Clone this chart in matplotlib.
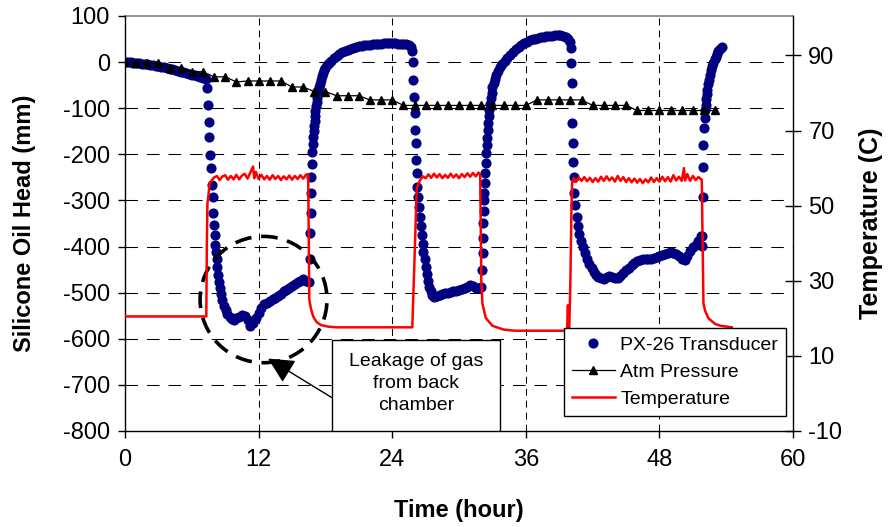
import matplotlib
matplotlib.use("Agg")
import matplotlib.pyplot as plt
from matplotlib.patches import Ellipse, Rectangle, FancyArrowPatch

plt.rcParams['font.family'] = ['Liberation Sans', 'DejaVu Sans']
plt.rcParams['lines.scale_dashes'] = False
plt.rcParams['axes.unicode_minus'] = False

# ---- PX-26 transducer (mm) ----
px_time = [
    # slow drift
    0.0, 0.25, 0.5, 0.75, 1.0, 1.25, 1.5, 1.75, 2.0, 2.25, 2.5, 2.75, 3.0, 3.25, 3.5,
    3.75, 4.0, 4.25, 4.5, 4.75, 5.0, 5.25, 5.5, 5.75, 6.0, 6.25, 6.5, 6.75, 7.0, 7.25,
    # first heating: drop
    7.35, 7.42, 7.5, 7.58, 7.66, 7.74, 7.8, 7.86, 7.92, 7.98, 8.04, 8.1, 8.16, 8.22,
    8.3, 8.38, 8.46, 8.55, 8.65, 8.75, 8.9, 9.05, 9.2, 9.4, 9.6,
    # leak period
    9.75, 10.0, 10.25, 10.5, 10.75, 11.0, 11.25, 11.5, 11.75, 12.0, 12.25, 12.5, 12.75,
    13.0, 13.25, 13.5, 13.75, 14.0, 14.25, 14.5, 14.75, 15.0, 15.25, 15.5, 15.75, 16.0,
    16.25, 16.5,
    # cooling: rise
    16.6, 16.63, 16.66, 16.7, 16.74, 16.78, 16.82, 16.86, 16.9, 16.94, 16.98, 17.02,
    17.06, 17.1, 17.15, 17.2, 17.25, 17.3, 17.36, 17.42, 17.5, 17.6, 17.7, 17.8, 17.9,
    18.0, 18.15, 18.3, 18.5, 18.75, 19.0, 19.25, 19.5, 19.75, 20.0, 20.25, 20.5, 20.75,
    21.0, 21.25, 21.5, 21.75, 22.0, 22.25, 22.5, 22.75, 23.0, 23.25, 23.5, 23.75, 24.0,
    24.25, 24.5, 24.75, 25.0, 25.25, 25.5, 25.7,
    # second heating: drop
    25.8, 25.86, 25.9, 25.95, 26.0, 26.05, 26.1, 26.15, 26.2, 26.25, 26.32, 26.4, 26.48,
    26.56, 26.64, 26.72, 26.8, 26.9, 27.0, 27.1, 27.2, 27.32, 27.45, 27.6, 27.75,
    28.0, 28.25, 28.5, 28.75, 29.0, 29.25, 29.5, 29.75, 30.0, 30.25, 30.5, 30.75, 31.0,
    31.25, 31.5, 31.75, 32.0,
    # cooling: rise
    32.08, 32.11, 32.14, 32.17, 32.2, 32.24, 32.28, 32.32, 32.36, 32.4, 32.44, 32.48,
    32.52, 32.57, 32.62, 32.67, 32.72, 32.78, 32.85, 32.92, 33.0, 33.1, 33.2, 33.35,
    33.5, 33.7, 33.9, 34.1, 34.35, 34.6, 34.85, 35.1, 35.35, 35.6, 35.85, 36.1, 36.35,
    36.6, 36.85, 37.1, 37.35, 37.6, 37.85, 38.1, 38.35, 38.6, 38.85, 39.1, 39.35, 39.6,
    39.8, 39.95,
    # third heating: drop
    40.02, 40.06, 40.1, 40.18, 40.22, 40.26, 40.3, 40.36, 40.45, 40.55, 40.65, 40.8,
    40.95, 41.1, 41.3, 41.5, 41.7, 41.9, 42.1, 42.3, 42.5, 42.75, 43.0, 43.25, 43.5,
    43.75, 44.0, 44.25, 44.5, 44.75, 45.0, 45.25, 45.5, 45.75, 46.0, 46.25, 46.5, 46.75,
    47.0, 47.25, 47.5, 47.75, 48.0, 48.25, 48.5, 48.75, 49.0, 49.25, 49.5, 49.75, 50.0,
    50.25, 50.5, 50.75, 51.0, 51.25, 51.5, 51.7,
    # cooling: rise
    51.8, 51.83, 51.87, 51.9, 51.95, 52.0, 52.05, 52.1, 52.15, 52.2, 52.25, 52.3, 52.38,
    52.46, 52.55, 52.65, 52.75, 52.85, 52.95, 53.05, 53.15, 53.3, 53.45, 53.6,
]
px_head = [
    1, 1, 0, -1, -2, -3, -4, -4, -5, -6, -7, -8, -9, -10, -11,
    -12, -14, -15, -17, -19, -21, -22, -24, -26, -28, -29, -31, -32, -34, -36,
    -57, -93, -130, -162, -201, -230, -266, -292, -327, -353, -374, -396, -412, -428,
    -445, -462, -476, -490, -503, -515, -528, -538, -546, -553, -558,
    -560, -556, -552, -548, -550, -560, -572, -566, -556, -545, -533, -525, -522,
    -518, -514, -511, -508, -502, -497, -494, -490, -486, -482, -478, -474, -471,
    -474, -478,
    -428, -370, -327, -284, -250, -220, -195, -178, -163, -150, -138, -127,
    -116, -106, -96, -87, -78, -70, -62, -55, -47, -39, -31, -24, -18,
    -13, -7, -2, 3, 9, 14, 18, 21, 24, 27, 29, 31, 33,
    34, 35, 36, 37, 38, 39, 39, 40, 40, 41, 41, 41, 41,
    41, 40, 40, 40, 39, 37, 33,
    25, 0, -39, -75, -110, -147, -175, -212, -240, -270, -292, -315, -335,
    -355, -375, -395, -412, -428, -444, -460, -474, -487, -497, -505, -509,
    -507, -505, -503, -501, -500, -498, -497, -496, -494, -492, -490, -487, -484,
    -486, -489, -490, -488,
    -450, -415, -381, -350, -324, -300, -284, -262, -240, -218, -197, -180,
    -164, -148, -132, -118, -104, -90, -78, -66, -55, -45, -37, -28,
    -20, -11, -4, 2, 9, 16, 22, 28, 33, 37, 41, 44, 47,
    49, 51, 53, 54, 55, 56, 57, 57, 58, 58, 58, 57, 55,
    51, 44,
    30, -2, -45, -132, -175, -216, -249, -284, -309, -335, -355, -372,
    -388, -402, -415, -427, -438, -447, -455, -461, -466, -469, -470, -467, -463,
    -465, -468, -468, -463, -457, -451, -446, -441, -436, -432, -429, -428, -427,
    -426, -427, -425, -422, -420, -418, -416, -414, -412, -413, -416, -420, -428,
    -430, -420, -410, -402, -396, -388, -378,
    -398, -378, -292, -227, -180, -143, -121, -105, -92, -81, -70, -60, -48,
    -38, -28, -18, -9, -1, 6, 12, 18, 24, 29, 32,
]

# ---- Atm pressure (mm), one reading per hour ----
atm_time = list(range(0, 54))
atm_head = [
    0, -1, -2, -2, -12, -12, -21, -21, -32, -32, -43, -41, -41, -41, -41, -54, -54, -64,
    -64, -73, -73, -73, -82, -82, -82, -94, -94, -94, -94, -94, -94, -94, -94, -94, -94,
    -94, -94, -82, -82, -82, -82, -82, -94, -94, -94, -94, -105, -105, -105, -105, -105,
    -105, -105, -105,
]

# ---- Temperature (C) ----
temp_time = [
    0.0, 7.3, 7.35, 7.4, 7.5, 7.6,
    7.75, 8.0, 8.25, 8.5, 8.75, 9.0, 9.25, 9.5, 9.75, 10.0, 10.25, 10.5, 10.75, 11.0,
    11.25, 11.5, 11.6, 11.75, 12.0, 12.25, 12.5, 12.75, 13.0, 13.25, 13.5, 13.75, 14.0,
    14.25, 14.5, 14.75, 15.0, 15.25, 15.5, 15.75, 16.0, 16.25, 16.45,
    16.5, 16.55, 16.7, 16.9, 17.2, 17.6, 18.2, 19.0, 25.8,
    25.85, 25.95, 26.1, 26.2, 26.5, 26.75,
    27.0, 27.25, 27.5, 27.75, 28.0, 28.25, 28.5, 28.75, 29.0, 29.25, 29.5, 29.75, 30.0,
    30.25, 30.5, 30.75, 31.0, 31.25, 31.5, 31.75, 31.9,
    31.95, 32.0, 32.1, 32.4, 33.0, 34.0, 35.0, 39.7, 39.78, 39.83, 39.9, 40.0, 40.1,
    40.15, 40.3,
    40.5, 40.75, 41.0, 41.25, 41.5, 41.75, 42.0, 42.25, 42.5, 42.75, 43.0, 43.25, 43.5,
    43.75, 44.0, 44.25, 44.5, 44.75, 45.0, 45.25, 45.5, 45.75, 46.0, 46.25, 46.5, 46.75,
    47.0, 47.25, 47.5, 47.75, 48.0, 48.25, 48.5, 48.75, 49.0, 49.25, 49.5, 49.75, 50.0,
    50.2, 50.3, 50.5, 50.75, 51.0, 51.25, 51.5, 51.8,
    51.88, 51.95, 52.1, 52.4, 53.0, 53.5, 54.5,
]
temp_c = [
    20.5, 20.5, 40.0, 50.5, 53.0, 56.0,
    56.6, 57.5, 57.9, 56.8, 57.8, 58.1, 56.9, 57.9, 57.0, 58.2, 57.0, 58.0, 58.5, 57.2,
    58.8, 60.4, 57.3, 59.0, 57.1, 58.2, 57.0, 57.9, 56.9, 58.1, 57.1, 57.9, 56.8,
    57.8, 57.0, 58.0, 56.9, 57.9, 57.1, 58.1, 57.2, 58.2, 58.4,
    40.0, 25.0, 22.5, 20.5, 19.0, 18.2, 17.8, 17.6, 17.6,
    22.0, 31.0, 45.0, 54.8, 56.8, 57.8,
    57.3, 58.3, 57.4, 58.5, 57.5, 58.4, 57.3, 58.2, 57.4, 58.5, 57.5, 58.3, 57.3,
    58.4, 57.6, 58.6, 57.7, 58.7, 57.8, 58.8, 58.2,
    45.0, 30.0, 23.9, 20.1, 18.0, 17.0, 16.7, 16.7, 23.5, 17.5, 17.3, 30.0, 50.0,
    56.0, 57.3,
    56.3, 57.5, 56.6, 57.6, 56.5, 57.4, 56.3, 57.3, 56.4, 57.7, 56.6, 57.8, 56.7,
    57.5, 56.4, 57.9, 56.6, 57.6, 56.3, 57.3, 56.2, 57.2, 56.1, 57.1, 56.0, 57.0,
    56.2, 57.5, 56.3, 57.3, 56.4, 57.7, 56.5, 57.6, 56.4, 58.1, 56.7, 57.7, 56.6,
    60.0, 56.7, 58.4, 56.6, 57.9, 56.8, 57.6, 56.9,
    40.0, 24.0, 22.0, 20.0, 18.5, 18.0, 17.6,
]

fig = plt.figure(figsize=(8.88, 5.27), dpi=100)
ax = fig.add_axes([0.1408, 0.1822, 0.7523, 0.7875])
ax2 = ax.twinx()

ax.set_xlim(0, 60)
ax.set_ylim(-800, 100)
ax2.set_ylim(-10, 100.5)
xticks = list(range(0, 61, 12))
yticks = list(range(-800, 101, 100))
ax.set_xticks(xticks)
ax.set_yticks(yticks)
ax2.set_yticks(list(range(-10, 91, 20)))

# grid
for yv in yticks[1:-1]:
    ax.axhline(yv, color='black', lw=0.75, ls=(0, (9, 6.5)), zorder=0.5)
for xv in xticks[1:-1]:
    ax.axvline(xv, color='black', lw=0.75, ls=(0, (5, 3.6)), zorder=0.5)

# data
h_px, = ax.plot(px_time, px_head, 'o', color='#000080', ms=6.3, mec='#000080',
                ls='none', zorder=3, label='PX-26 Transducer')
h_atm, = ax.plot(atm_time, atm_head, '-^', color='black', ms=5.5, lw=0.9,
                 zorder=4, label='Atm Pressure')
h_temp, = ax2.plot(temp_time, temp_c, '-', color='red', lw=1.8, label='Temperature')

# annotation
ax.add_patch(Ellipse((12.44, -515), 11.4, 274, fill=False, ec='black', lw=2.6,
                     ls=(0, (12, 7)), zorder=5))
ax.add_patch(Rectangle((18.6, -800), 15.1, 198, fc='white', ec='black', lw=1, zorder=5))
ax.text(26.15, -697, 'Leakage of gas\nfrom back\nchamber', ha='center', va='center',
        fontsize=14, linespacing=1.35, zorder=6)
ax.add_patch(FancyArrowPatch((18.6, -728), (12.85, -643),
                             arrowstyle='-|>,head_length=0.8,head_width=0.4',
                             mutation_scale=20, color='black', lw=1,
                             shrinkA=0, shrinkB=0, zorder=6))

# axes styling
for s in ['top', 'right']:
    ax.spines[s].set_visible(False)
ax.spines['left'].set_linewidth(1)
ax.spines['bottom'].set_linewidth(1)
for s in ['top', 'left', 'bottom']:
    ax2.spines[s].set_visible(False)
ax2.spines['right'].set_linewidth(1)
ax.plot([0, 60], [100, 100], color='#808080', lw=1.2, clip_on=False, zorder=1)

ax.tick_params(axis='y', direction='out', length=5, width=1, labelsize=17, pad=6)
ax.tick_params(axis='x', direction='out', length=5, width=1, labelsize=17, pad=8)
ax2.tick_params(axis='y', direction='inout', length=12, width=1, labelsize=17, pad=5)

ax.set_xlabel('Time (hour)', fontsize=17, fontweight='bold', labelpad=20)
ax.set_ylabel('Silicone Oil Head (mm)', fontsize=17, fontweight='bold', labelpad=19)
ax2.set_ylabel('Temperature (C)', fontsize=18, fontweight='bold', labelpad=12)

leg = ax2.legend(handles=[h_px, h_atm, h_temp], loc='lower right',
                 bbox_to_anchor=(0.9895, 0.036), borderaxespad=0, fontsize=14,
                 labelspacing=0.5, handlelength=2.2, handletextpad=0.3, borderpad=0.4,
                 fancybox=False, framealpha=1, edgecolor='black')
leg.get_frame().set_linewidth(1)

fig.savefig('out.png', dpi=100)
